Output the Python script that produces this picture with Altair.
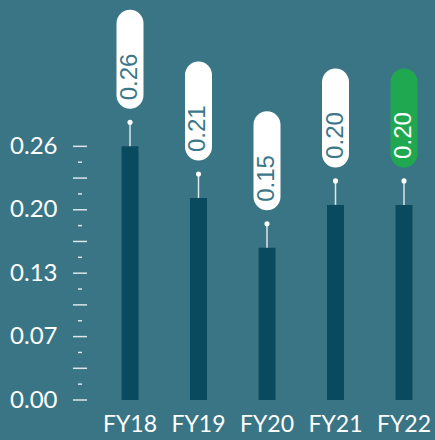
import altair as alt
import pandas as pd

years = ["FY18", "FY19", "FY20", "FY21", "FY22"]
values = [0.26, 0.207, 0.156, 0.20, 0.20]
labels = ["0.26", "0.21", "0.15", "0.20", "0.20"]
pill_colors = ["#ffffff", "#ffffff", "#ffffff", "#ffffff", "#1fa84f"]
text_colors = ["#3b7789", "#3b7789", "#3b7789", "#3b7789", "#ffffff"]

axis_values = [0, 0.065, 0.13, 0.195, 0.26]
major_ticks = [0, 0.0325, 0.065, 0.0975, 0.13, 0.1625, 0.195, 0.2275, 0.26]
minor_ticks = [0.01625, 0.04875, 0.08125, 0.11375, 0.14625, 0.17875, 0.21125, 0.24375]

BG = "#3a7586"
BAR = "#0a4a5e"
LIGHT = "#dde5e8"

df = pd.DataFrame({"year": years, "value": values, "label": labels,
                   "pill": pill_colors, "tcol": text_colors})
df_major = pd.DataFrame({"t": major_ticks})
df_minor = pd.DataFrame({"t": minor_ticks})

yscale = alt.Scale(domain=[0, 0.41], nice=False, zero=True)
xenc = alt.X("year:N", sort=years,
             scale=alt.Scale(paddingInner=0.095, paddingOuter=0),
             axis=alt.Axis(title=None, labelAngle=0, domain=False, ticks=False,
                           labelPadding=13, labelFontSize=23, labelColor="#ffffff",
                           labelFont="Lato"))
yenc = alt.Y("value:Q", scale=yscale,
             axis=alt.Axis(title=None, values=axis_values, format=".2f", domain=False,
                           ticks=False, grid=False, labelPadding=42, labelFontSize=24,
                           labelColor="#ffffff", labelFont="Lato"))

base = alt.Chart(df)

bars = base.mark_bar(width=17, color=BAR).encode(x=xenc, y=yenc)

stems = base.mark_rule(color=LIGHT, strokeWidth=1.5, y2Offset=-24).encode(
    x=alt.X("year:N", sort=years), y=alt.Y("value:Q", scale=yscale), y2="value:Q")

dots = base.mark_circle(size=26, color="#ffffff", opacity=1, yOffset=-24).encode(
    x=alt.X("year:N", sort=years), y=alt.Y("value:Q", scale=yscale))

pills = base.mark_bar(width=27, cornerRadius=13.5, yOffset=-37.5, y2Offset=-136.5).encode(
    x=alt.X("year:N", sort=years), y=alt.Y("value:Q", scale=yscale), y2="value:Q",
    color=alt.Color("pill:N", scale=None))

texts = base.mark_text(angle=270, align="left", baseline="middle", yOffset=-46,
                       fontSize=24, font="Liberation Sans").encode(
    x=alt.X("year:N", sort=years), y=alt.Y("value:Q", scale=yscale),
    text="label:N", color=alt.Color("tcol:N", scale=None))

major = alt.Chart(df_major).mark_rule(color=LIGHT, strokeWidth=1.5).encode(
    x=alt.value(-26), x2=alt.value(-12), y=alt.Y("t:Q", scale=yscale))
minor = alt.Chart(df_minor).mark_rule(color=LIGHT, strokeWidth=1.5).encode(
    x=alt.value(-21), x2=alt.value(-17), y=alt.Y("t:Q", scale=yscale))

chart = alt.layer(bars, stems, dots, pills, texts, major, minor).properties(
    width=336, height=400,
    autosize=alt.AutoSizeParams(type="none"),
    padding={"left": 99, "top": 0, "right": 0, "bottom": 40},
    background=BG,
).configure_view(stroke=None)

chart.save("out.html", embed_options={"renderer": "svg", "actions": False})
